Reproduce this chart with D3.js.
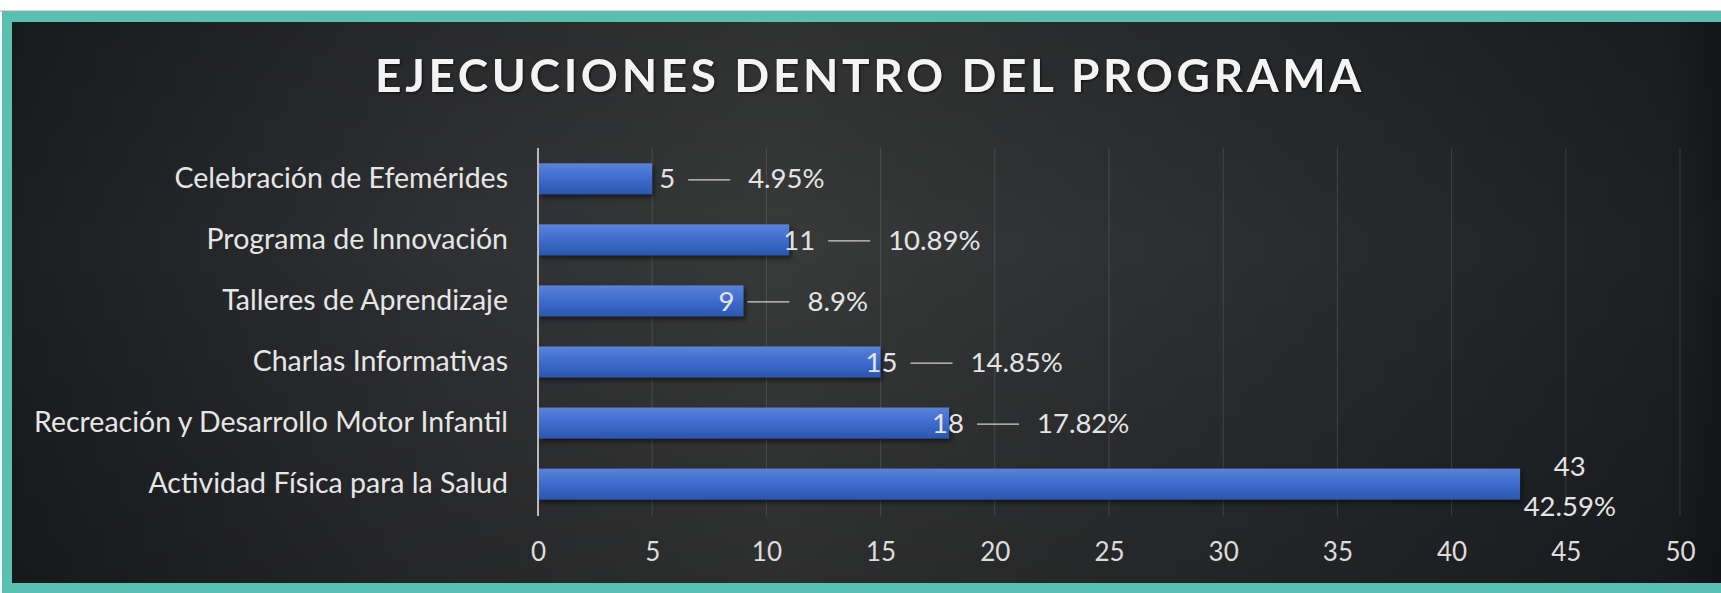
<!DOCTYPE html>
<html>
<head>
<meta charset="utf-8">
<script src="https://cdn.jsdelivr.net/npm/d3@7"></script>
<style>
  body { margin: 0; background: #fff; }
  svg { display: block; }
</style>
</head>
<body>
<div id="chart"></div>
<script>
// datos del grafico
var categorias = ["Celebración de Efemérides", "Programa de Innovación", "Talleres de Aprendizaje",
                  "Charlas Informativas", "Recreación y Desarrollo Motor Infantil", "Actividad Física para la Salud"];
var ejecuciones = [5, 11, 9, 15, 18, 43];
var porcentajes = ["4.95%", "10.89%", "8.9%", "14.85%", "17.82%", "42.59%"];
var ticks = [0, 5, 10, 15, 20, 25, 30, 35, 40, 45, 50];
var titulo = "EJECUCIONES DENTRO DEL PROGRAMA";

// ajuste manual de las etiquetas (como en el excel original)
var labelDx = [7, -6, -25, -15, -17, 0];

var W = 1721, H = 593;
var margin = {top: 148, left: 538, right: 41, bottom: 78};

var svg = d3.select("#chart").append("svg")
    .attr("width", W).attr("height", H);

var defs = svg.append("defs");

// fondo oscuro con degradado
var bg = defs.append("linearGradient").attr("id", "bg");
bg.append("stop").attr("offset", "0%").attr("stop-color", "#1c1e21");
bg.append("stop").attr("offset", "25%").attr("stop-color", "#2f3032");
bg.append("stop").attr("offset", "45%").attr("stop-color", "#383939");
bg.append("stop").attr("offset", "72%").attr("stop-color", "#2b2d2f");
bg.append("stop").attr("offset", "97%").attr("stop-color", "#1e2124");
bg.append("stop").attr("offset", "100%").attr("stop-color", "#15181b");

var vshade = defs.append("linearGradient").attr("id", "vshade")
    .attr("x1", 0).attr("y1", 0).attr("x2", 0).attr("y2", 1);
vshade.append("stop").attr("offset", "0%").attr("stop-color", "#000").attr("stop-opacity", 0.15);
vshade.append("stop").attr("offset", "40%").attr("stop-color", "#000").attr("stop-opacity", 0);
vshade.append("stop").attr("offset", "100%").attr("stop-color", "#000").attr("stop-opacity", 0.2);

// barras azules
var barGrad = defs.append("linearGradient").attr("id", "barGrad")
    .attr("x1", 0).attr("y1", 0).attr("x2", 0).attr("y2", 1);
barGrad.append("stop").attr("offset", "0%").attr("stop-color", "#5b82d8");
barGrad.append("stop").attr("offset", "45%").attr("stop-color", "#406ecf");
barGrad.append("stop").attr("offset", "100%").attr("stop-color", "#2b56ad");

// marco verde agua
svg.append("rect").attr("x", 2).attr("y", 11).attr("width", W).attr("height", H - 11)
    .attr("fill", "#58c0b1");
svg.append("line").attr("x1", 0).attr("x2", W).attr("y1", 11).attr("y2", 11)
    .attr("stroke", "#9aa5a3").attr("stroke-width", 1);
svg.append("rect").attr("x", 12).attr("y", 22).attr("width", W - 12).attr("height", 561)
    .attr("fill", "url(#bg)");
svg.append("rect").attr("x", 12).attr("y", 22).attr("width", W - 12).attr("height", 561)
    .attr("fill", "url(#vshade)");

// titulo
svg.append("text")
    .attr("x", 870).attr("y", 92)
    .attr("text-anchor", "middle")
    .style("font-family", "Lato, 'Open Sans', sans-serif")
    .style("font-weight", "bold")
    .style("font-size", "46px")
    .style("letter-spacing", "3.6px")
    .style("fill", "#f4f4f4")
    .style("filter", "drop-shadow(1px 1px 1px rgba(0,0,0,0.6))")
    .text(titulo);

var x = d3.scaleLinear().domain([0, 50]).range([margin.left, W - margin.right]);
var y = d3.scaleBand().domain(categorias)
    .range([margin.top, H - margin.bottom])
    .paddingInner(0.49).paddingOuter(0.25);

var y0 = margin.top, y1 = 516;

// lineas de cuadricula
svg.append("g")
  .selectAll("line")
  .data(ticks.slice(1))
  .enter().append("line")
    .attr("x1", function(d){ return x(d); })
    .attr("x2", function(d){ return x(d); })
    .attr("y1", y0).attr("y2", y1)
    .attr("stroke", "#ffffff").attr("stroke-opacity", 0.13).attr("stroke-width", 1);

// eje x
var xAxis = svg.append("g")
    .attr("transform", "translate(0," + 552 + ")")
    .call(d3.axisBottom(x).tickValues(ticks).tickSize(0).tickPadding(0));
xAxis.select(".domain").remove();
xAxis.selectAll("text")
    .attr("dy", "0.35em")
    .style("font-family", "Lato, sans-serif")
    .style("font-size", "26px")
    .style("fill", "#dcdcdc");

// eje y
var yAxis = svg.append("g")
    .attr("transform", "translate(" + x(0) + ",0)")
    .call(d3.axisLeft(y).tickSize(0).tickPadding(30));
yAxis.select(".domain").remove();
yAxis.selectAll("text")
    .style("font-family", "Lato, sans-serif")
    .style("font-size", "28.5px")
    .style("fill", "#e6e6e6");

// barras
svg.append("g")
  .selectAll("rect")
  .data(ejecuciones)
  .enter().append("rect")
    .attr("x", x(0))
    .attr("y", function(d, i){ return y(categorias[i]); })
    .attr("width", function(d){ return x(d) - x(0); })
    .attr("height", y.bandwidth())
    .attr("fill", "url(#barGrad)")
    .style("filter", "drop-shadow(2px 3px 2px rgba(0,0,0,0.5))");

svg.append("line")
    .attr("x1", x(0)).attr("x2", x(0))
    .attr("y1", y0).attr("y2", y1)
    .attr("stroke", "#b8b8b8").attr("stroke-width", 2);

// etiquetas de datos
var labFont = {"font-family": "Lato, sans-serif", "font-size": "27.5px", "fill": "#e4e4e4"};
function estilo(sel) {
  Object.keys(labFont).forEach(function(k){ sel.style(k, labFont[k]); });
  return sel;
}
var maxV = d3.max(ejecuciones);
ejecuciones.forEach(function(v, i) {
  var cy = y(categorias[i]) + y.bandwidth() / 2;
  if (v === maxV) {
    // etiqueta apilada en dos lineas
    estilo(svg.append("text")).attr("x", x(45) + 4).attr("y", cy - 18)
      .attr("text-anchor", "middle").attr("dy", "0.35em").text(v);
    estilo(svg.append("text")).attr("x", x(45) + 4).attr("y", cy + 22)
      .attr("text-anchor", "middle").attr("dy", "0.35em").text(porcentajes[i]);
    return;
  }
  var t = estilo(svg.append("text")).attr("x", x(v) + labelDx[i]).attr("y", cy)
      .attr("dy", "0.35em").text(v);
  var tEnd = x(v) + labelDx[i] + t.node().getComputedTextLength();
  svg.append("line")
    .attr("x1", tEnd + 13).attr("x2", tEnd + 55)
    .attr("y1", cy + 1).attr("y2", cy + 1)
    .attr("stroke", "#d0d0d0").attr("stroke-width", 1.3);
  estilo(svg.append("text")).attr("x", tEnd + 73).attr("y", cy)
      .attr("dy", "0.35em").text(porcentajes[i]);
});
</script>
</body>
</html>
